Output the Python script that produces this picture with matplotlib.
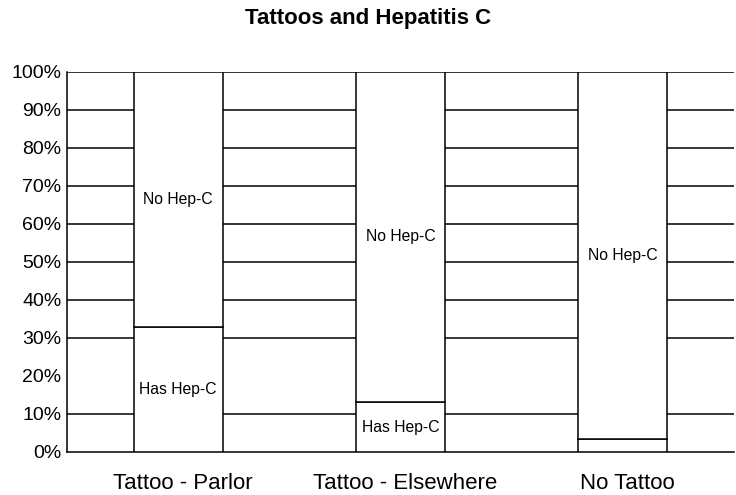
import matplotlib.pyplot as plt
import numpy as np
from matplotlib.ticker import PercentFormatter

plt.rcParams['font.family'] = ['Liberation Sans', 'DejaVu Sans']

# Data (percent of each group)
groups = ['Tattoo - Parlor', 'Tattoo - Elsewhere', 'No Tattoo']
has_hepc = [32.8, 13.1, 3.4]
no_hepc = [100 - v for v in has_hepc]
grid_levels = [10, 30, 40, 50, 60, 70, 80, 90, 100]

fig = plt.figure(figsize=(7.36, 4.95), dpi=100)
ax = fig.add_axes([0.091, 0.087, 0.906, 0.768])

x = np.arange(len(groups))
w = 0.4
ax.bar(x, has_hepc, w, color='white', edgecolor='black', linewidth=1.1, zorder=3)
ax.bar(x, no_hepc, w, bottom=has_hepc, color='white', edgecolor='black', linewidth=1.1, zorder=3)

for y in grid_levels:
    ax.axhline(y, color='black', linewidth=1.1, zorder=1)

# labels inside the bars
for i in range(len(groups)):
    ax.text(x[i], has_hepc[i] + no_hepc[i] / 2, 'No Hep-C', ha='center', va='center', fontsize=11.3, zorder=4)
    if has_hepc[i] > 5:
        ax.text(x[i], has_hepc[i] / 2, 'Has Hep-C', ha='center', va='center', fontsize=11.3, zorder=4)

ax.set_xlim(-0.5, 2.5)
ax.set_ylim(0, 100)
ax.set_yticks(np.arange(0, 101, 10))
ax.yaxis.set_major_formatter(PercentFormatter(decimals=0))
ax.set_xticks(x + 0.02)
ax.set_xticklabels(groups, fontsize=16)
ax.tick_params(axis='x', length=0, pad=15)
ax.tick_params(axis='y', length=0, labelsize=14, pad=4)
for s in ['top', 'right']:
    ax.spines[s].set_visible(False)
ax.spines['left'].set_linewidth(1.1)
ax.spines['bottom'].set_linewidth(1.1)

fig.text(0.5, 0.963, 'Tattoos and Hepatitis C', ha='center', va='center', fontsize=16, fontweight='bold')

fig.savefig('out.png', dpi=100)
